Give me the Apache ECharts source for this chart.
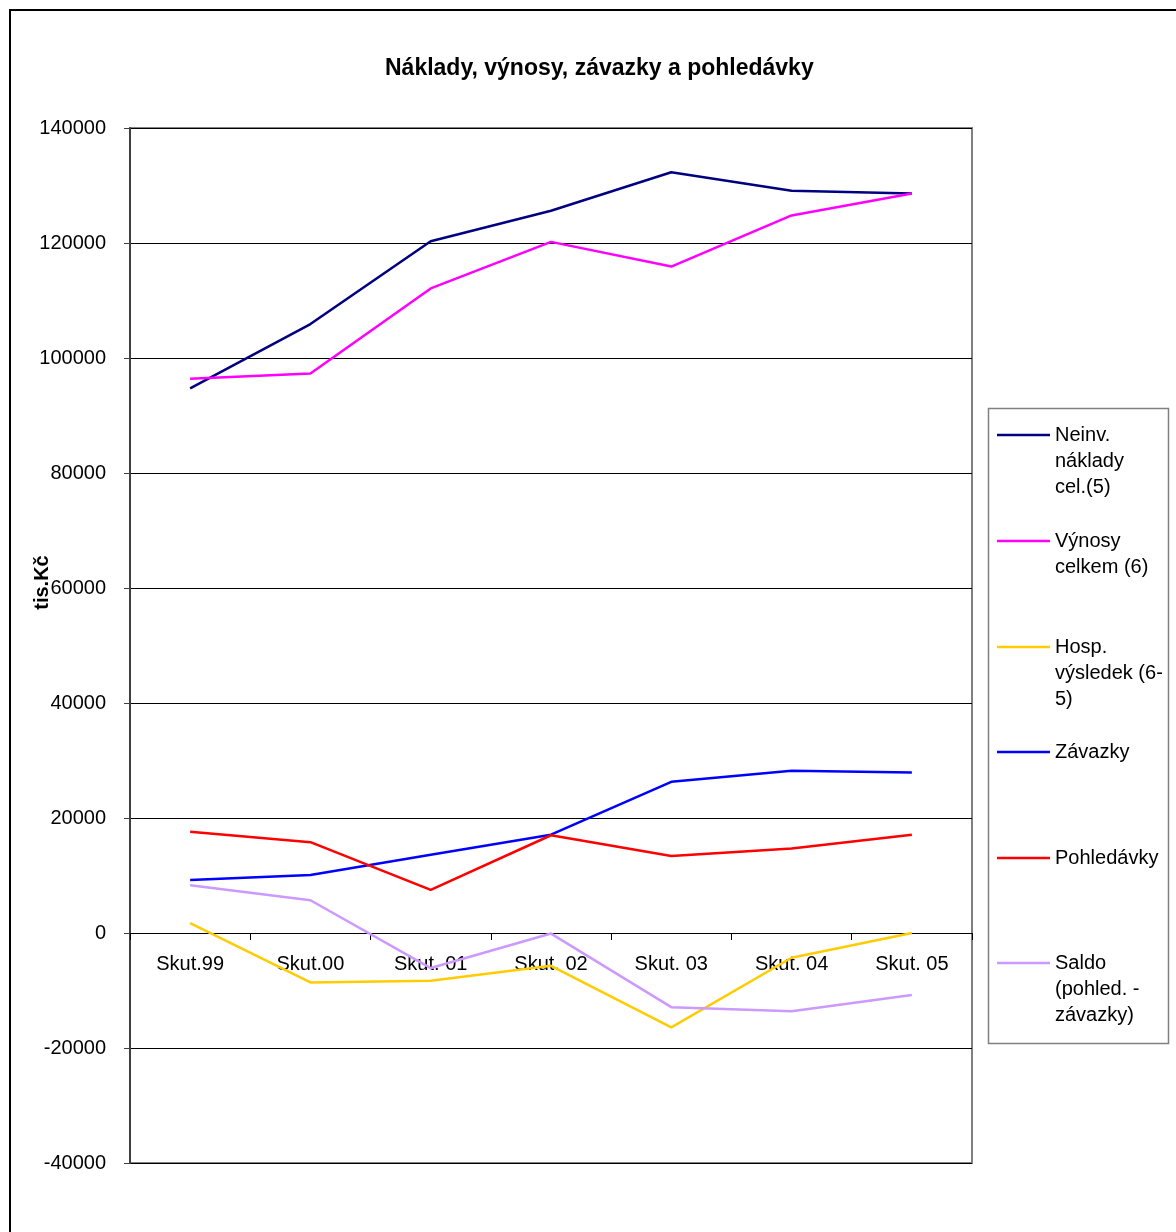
<!DOCTYPE html>
<html>
<head>
<meta charset="utf-8">
<script src="https://cdn.jsdelivr.net/npm/echarts@6/dist/echarts.min.js"></script>
<style>
html,body{margin:0;padding:0;background:#fff;}
#c{width:1176px;height:1232px;}
</style>
</head>
<body>
<div id="c"></div>
<script>
const categories = ['Skut.99','Skut.00','Skut. 01','Skut. 02','Skut. 03','Skut. 04','Skut. 05'];
const neinv = [94700,105900,120300,125600,132300,129100,128600];
const vynosy = [96400,97300,112100,120200,115900,124800,128600];
const hosp = [1700,-8600,-8300,-5700,-16400,-4300,0];
const zavazky = [9200,10100,13600,17100,26300,28200,27900];
const pohledavky = [17600,15800,7500,17000,13400,14700,17100];
const saldo = [8300,5700,-6100,-100,-12900,-13600,-10800];
const yTicks = {min:-40000, max:140000, interval:20000};

const seriesNames = ['Neinv. náklady cel.(5)','Výnosy celkem (6)','Hosp. výsledek (6-5)','Závazky','Pohledávky','Saldo (pohled. - závazky)'];
const legendLabels = ['Neinv.\nnáklady\ncel.(5)','Výnosy\ncelkem (6)','Hosp.\nvýsledek (6-\n5)','Závazky','Pohledávky','Saldo\n(pohled. -\nzávazky)'];
const colors = ['#000080','#FF00FF','#FFCC00','#0000FF','#FF0000','#CC99FF'];
const values = [neinv, vynosy, hosp, zavazky, pohledavky, saldo];

const FONT = '"Liberation Sans", Arial, sans-serif';
const LH = 26;
const iconCenters = [435, 541, 647, 752, 858, 963];

const GRID = {left: 130, right: 204, top: 128, bottom: 69};
const plotH = 1232 - GRID.top - GRID.bottom;
const zeroOffset = -plotH * (0 - yTicks.min) / (yTicks.max - yTicks.min);

const legends = seriesNames.map((n, i) => {
  const lines = legendLabels[i].split('\n').length;
  const total = 2 * lines - 1;
  const boxH = total * LH;
  const label = '\n'.repeat(lines - 1) + legendLabels[i];
  return {
    data: [n],
    orient: 'vertical',
    left: 997,
    top: iconCenters[i] - boxH / 2,
    padding: 0,
    icon: 'rect',
    itemWidth: 53,
    itemHeight: 2.5,
    itemGap: 0,
    selectedMode: false,
    formatter: () => label,
    textStyle: {fontFamily: FONT, fontSize: 20, color: '#000', lineHeight: LH}
  };
});

const chart = echarts.init(document.getElementById('c'));
chart.setOption({
  animation: false,
  backgroundColor: '#fff',
  title: {
    text: 'Náklady, výnosy, závazky a pohledávky',
    left: 380, top: 52,
    textStyle: {fontFamily: FONT, fontSize: 23, fontWeight: 'bold', color: '#000'}
  },
  graphic: [
    {type:'rect', shape:{x:10, y:10, width:1400, height:1400}, style:{fill:'none', stroke:'#000', lineWidth:2}, silent:true},
    {type:'rect', shape:{x:988.5, y:408.5, width:180, height:635}, style:{fill:'#fff', stroke:'#808080', lineWidth:1.5}, silent:true, z:-1}
  ],
  legend: legends,
  grid: {
    left: GRID.left, right: GRID.right, top: GRID.top, bottom: GRID.bottom,
    outerBoundsMode: 'none',
    containLabel: false,
    show: true, borderColor: '#808080', borderWidth: 2, backgroundColor: 'transparent'
  },
  xAxis: {
    type: 'category',
    data: categories,
    boundaryGap: true,
    offset: zeroOffset,
    axisLine: {onZero: false, lineStyle: {color: '#000', width: 1}},
    axisTick: {show: true, length: 7, interval: 0, lineStyle: {color: '#000'}},
    axisLabel: {interval: 0, margin: 21, fontFamily: FONT, fontSize: 20, color: '#000'},
    splitLine: {show: false}
  },
  yAxis: {
    type: 'value',
    min: yTicks.min, max: yTicks.max, interval: yTicks.interval,
    name: 'tis.Kč',
    nameLocation: 'middle',
    nameGap: 78,
    nameMoveOverlap: false,
    nameTextStyle: {fontFamily: FONT, fontSize: 20, fontWeight: 'bold', color: '#000', padding: [0, 0, 0, 126]},
    axisLine: {show: true, lineStyle: {color: '#404040', width: 2}},
    axisTick: {show: true, length: 6, lineStyle: {color: '#404040'}},
    axisLabel: {margin: 24, fontFamily: FONT, fontSize: 20, color: '#000', formatter: v => String(v)},
    splitLine: {show: true, lineStyle: {color: '#000', width: 1}}
  },
  series: seriesNames.map((n, i) => ({
    name: n,
    type: 'line',
    data: values[i],
    symbol: 'none',
    showSymbol: false,
    color: colors[i],
    itemStyle: {color: colors[i]},
    lineStyle: {color: colors[i], width: 2.5},
    z: 3
  }))
});
</script>
</body>
</html>
